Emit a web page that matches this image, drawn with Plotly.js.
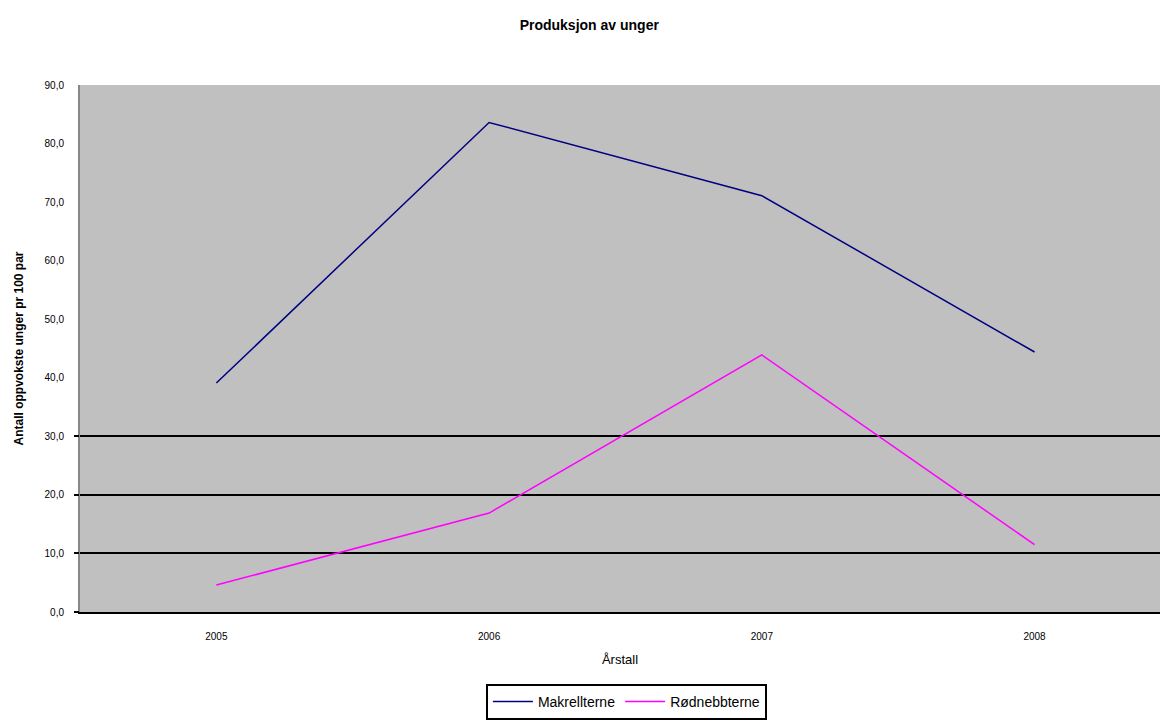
<!DOCTYPE html>
<html>
<head>
<meta charset="utf-8">
<script src="https://cdn.plot.ly/plotly-3.0.1.min.js"></script>
<style>html,body{margin:0;padding:0;background:#fff;overflow:hidden;}</style>
</head>
<body>
<div id="chart" style="width:1160px;height:720px;"></div>
<script>
const years = ['2005', '2006', '2007', '2008'];
const makrellterne = [39.1, 83.6, 71.1, 44.4];
const rodnebbterne = [4.6, 16.9, 43.9, 11.5];
const yTicks = [0, 10, 20, 30, 40, 50, 60, 70, 80, 90];
const gridTicks = [0, 10, 20, 30];

const font = 'Liberation Sans, Arial, sans-serif';

const traces = [
  {x: years, y: makrellterne, name: 'Makrellterne', type: 'scatter', mode: 'lines',
   line: {color: '#000080', width: 1.5}},
  {x: years, y: rodnebbterne, name: 'Rødnebbterne', type: 'scatter', mode: 'lines',
   line: {color: '#ff00ff', width: 1.5}},
  {x: years, y: rodnebbterne, yaxis: 'y2', showlegend: false, hoverinfo: 'skip',
   type: 'scatter', mode: 'lines', line: {width: 0}, opacity: 0}
];

const layout = {
  width: 1160, height: 720,
  separators: ', ',
  paper_bgcolor: '#ffffff',
  plot_bgcolor: '#c0c0c0',
  margin: {l: 80, r: 0, t: 85, b: 108},
  font: {family: font, size: 10, color: '#000'},
  title: {text: '<b>Produksjon av unger</b>', x: 0.508, xref: 'container', y: 0.965, yref: 'container',
          yanchor: 'middle', font: {family: font, size: 14, color: '#000'}},
  xaxis: {type: 'category', range: [-0.5, 3.46], showgrid: false, zeroline: false,
          showline: true, linecolor: '#000', linewidth: 2, ticks: '',
          tickfont: {family: font, size: 10}, ticklabelstandoff: 14,
          title: {text: 'Årstall', font: {family: font, size: 13}, standoff: 14}},
  yaxis: {range: [0, 90], tickvals: yTicks, tickformat: '.1f', showgrid: false, zeroline: false,
          showline: true, linecolor: '#888888', linewidth: 2, ticks: '',
          tickfont: {family: font, size: 10}, ticklabelstandoff: 12,
          title: {text: '<b>Antall oppvokste unger pr 100 par</b>', font: {family: font, size: 12}, standoff: 18}},
  yaxis2: {overlaying: 'y', range: [0, 90], tickvals: gridTicks, showticklabels: false,
           showgrid: true, gridcolor: '#000', gridwidth: 2, zeroline: false, showline: false,
           ticks: 'outside', ticklen: 5, tickwidth: 2, tickcolor: '#000', side: 'left'},
  showlegend: true,
  legend: {orientation: 'h', xref: 'container', yref: 'container', x: 0.54, xanchor: 'center',
           y: -0.012, yanchor: 'bottom', bgcolor: '#fff', bordercolor: '#000', borderwidth: 2,
           font: {family: font, size: 14}, itemwidth: 40, tracegroupgap: 0}
};

Plotly.newPlot('chart', traces, layout, {displayModeBar: false, staticPlot: true});
</script>
</body>
</html>
